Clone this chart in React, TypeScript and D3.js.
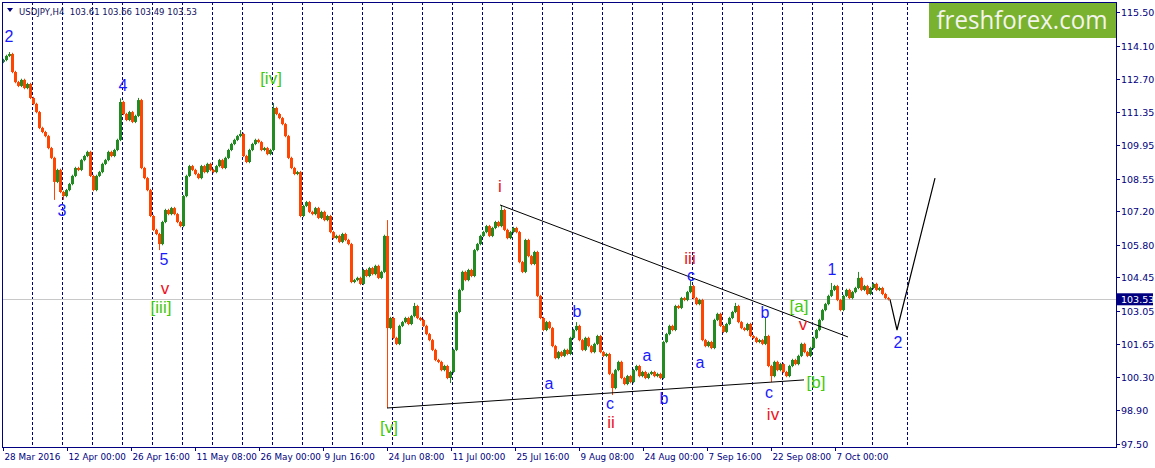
import * as d3 from 'd3';

// USDJPY H4, one close every 3 bars (12 hours)
const closes = [
  113.5, 113.67, 113.75, 113.0, 112.58, 112.42, 112.67, 112.33, 112.5, 111.92,
  111.67, 111.33, 110.67, 110.5, 110.33, 109.83, 109.42, 108.42, 108.92, 108.0,
  107.83, 108.08, 108.33, 108.67, 109.0, 108.92, 109.33, 109.5, 109.67, 108.67,
  108.08, 108.67, 108.83, 109.17, 109.33, 109.67, 109.5, 109.75, 110.17, 111.75,
  111.25, 111.0, 111.33, 110.92, 111.17, 111.83, 109.0, 108.58, 108.08, 107.0,
  106.42, 106.25, 105.83, 106.75, 107.25, 107.08, 107.33, 107.08, 106.75, 106.58,
  107.83, 108.67, 109.08, 108.92, 108.75, 108.58, 109.08, 108.83, 109.17, 108.92,
  108.83, 109.08, 109.33, 109.0, 109.42, 109.75, 110.0, 110.17, 110.33, 110.42,
  109.5, 109.25, 109.75, 110.0, 110.17, 110.08, 109.75, 109.83, 109.58, 109.75,
  111.5, 111.25, 111.08, 110.83, 110.33, 109.42, 109.0, 108.75, 108.83, 107.0,
  107.42, 107.58, 107.17, 107.08, 107.33, 106.92, 107.17, 106.83, 107.0, 106.33,
  106.08, 106.17, 105.92, 106.25, 106.0, 105.83, 104.25, 104.33, 104.42, 104.17,
  104.75, 104.5, 104.83, 104.58, 104.92, 104.42, 104.67, 106.17, 102.33, 102.75,
  101.92, 101.67, 102.42, 102.58, 102.75, 102.5, 102.83, 103.25, 102.75, 102.67,
  102.42, 102.08, 101.83, 101.42, 101.0, 100.92, 100.58, 100.75, 100.25, 100.5,
  101.42, 103.0, 103.92, 104.67, 104.33, 104.75, 104.5, 105.58, 105.83, 106.17,
  106.33, 106.58, 106.17, 106.5, 106.75, 106.58, 107.25, 106.42, 106.08, 106.33,
  106.5, 106.33, 105.08, 104.67, 106.0, 105.33, 105.0, 105.5, 103.67, 102.75,
  102.25, 102.58, 102.33, 101.58, 101.08, 101.33, 101.17, 101.42, 101.25, 101.92,
  102.25, 102.42, 101.83, 101.42, 101.92, 101.58, 101.33, 101.67, 102.0, 101.33,
  101.17, 101.25, 100.42, 99.83, 100.58, 100.92, 100.25, 100.0, 100.33, 100.08,
  100.58, 100.75, 100.33, 100.5, 100.25, 100.42, 100.5, 100.33, 100.42, 100.25,
  101.75, 102.08, 102.42, 102.25, 103.25, 103.17, 103.58, 103.5, 103.83, 104.08,
  103.58, 103.33, 103.5, 101.83, 101.58, 101.75, 101.5, 102.67, 102.92, 102.42,
  102.17, 102.5, 102.75, 103.0, 103.25, 102.58, 102.33, 102.25, 102.5, 102.0,
  101.92, 101.75, 101.83, 101.67, 102.0, 100.75, 100.33, 100.92, 100.58, 100.83,
  100.5, 100.33, 100.75, 101.0, 100.83, 101.17, 101.67, 101.33, 101.17, 101.5,
  101.92, 102.25, 102.67, 103.08, 103.33, 103.67, 103.92, 104.08, 103.5, 103.08,
  103.67, 103.92, 103.58, 103.83, 104.0, 104.42, 103.92, 104.08, 103.75, 104.0,
  104.17, 103.92, 104.0, 103.75, 103.58, 103.53,
];

// long wicks (index into closes)
const extremes: { i: number; high?: number; low?: number }[] = [
  { i: 2, high: 113.83 },
  { i: 17, low: 107.67 },
  { i: 20, low: 107.67 },
  { i: 39, high: 111.9 },
  { i: 45, high: 111.92 },
  { i: 52, low: 105.58 },
  { i: 79, high: 110.58 },
  { i: 90, high: 111.71 },
  { i: 128, high: 106.83, low: 99.0 },
  { i: 137, high: 103.38 },
  { i: 149, low: 100.04 },
  { i: 166, high: 107.46 },
  { i: 191, high: 102.58 },
  { i: 203, low: 99.54 },
  { i: 229, high: 104.33 },
  { i: 244, high: 103.38 },
  { i: 254, high: 102.79 },
  { i: 256, low: 100.08 },
  { i: 276, high: 104.21 },
  { i: 285, high: 104.67 },
];

const yTickLabels = ['115.50', '114.10', '112.70', '111.35', '109.95', '108.55', '107.20', '105.80', '104.45', '103.05', '101.65', '100.30', '98.90', '97.50'];
const xTickLabels = ['28 Mar 2016', '12 Apr 00:00', '26 Apr 16:00', '11 May 08:00', '26 May 00:00', '9 Jun 16:00', '24 Jun 08:00', '11 Jul 00:00', '25 Jul 16:00', '9 Aug 08:00', '24 Aug 00:00', '7 Sep 16:00', '22 Sep 08:00', '7 Oct 00:00'];
const xTickBars = [0, 64, 128, 192, 256, 320, 384, 448, 512, 576, 640, 704, 768, 832];
const weekBars = [...d3.range(29, 870, 30), 904];

const lastPrice = 103.53;
const quote = 'USDJPY,H4  103.61 103.66 103.49 103.53';

const upperLine = [{ bar: 497, price: 107.46 }, { bar: 845, price: 101.96 }];
const lowerLine = [{ bar: 384, price: 99.0 }, { bar: 801, price: 100.17 }];
const projection = [{ bar: 887, price: 103.53 }, { bar: 894, price: 102.25 }, { bar: 932, price: 108.58 }];

type Kind = 'blue' | 'red' | 'green';
const waveLabels: { text: string; bar: number; price: number; kind: Kind }[] = [
  { text: '2', bar: 6, price: 114.5, kind: 'blue' },
  { text: '3', bar: 59, price: 107.25, kind: 'blue' },
  { text: '4', bar: 120, price: 112.42, kind: 'blue' },
  { text: '5', bar: 161, price: 105.17, kind: 'blue' },
  { text: 'v', bar: 162, price: 104.0, kind: 'red' },
  { text: '[iii]', bar: 158, price: 103.17, kind: 'green' },
  { text: '[iv]', bar: 268, price: 112.71, kind: 'green' },
  { text: '[v]', bar: 386, price: 98.17, kind: 'green' },
  { text: 'i', bar: 497, price: 108.25, kind: 'red' },
  { text: 'a', bar: 546, price: 100.04, kind: 'blue' },
  { text: 'b', bar: 574, price: 103.04, kind: 'blue' },
  { text: 'c', bar: 607, price: 99.17, kind: 'blue' },
  { text: 'ii', bar: 608, price: 98.38, kind: 'red' },
  { text: 'a', bar: 644, price: 101.17, kind: 'blue' },
  { text: 'b', bar: 661, price: 99.38, kind: 'blue' },
  { text: 'iii', bar: 687, price: 105.25, kind: 'red' },
  { text: 'c', bar: 688, price: 104.54, kind: 'blue' },
  { text: 'a', bar: 697, price: 100.88, kind: 'blue' },
  { text: 'b', bar: 762, price: 103.0, kind: 'blue' },
  { text: 'c', bar: 766, price: 99.63, kind: 'blue' },
  { text: 'iv', bar: 770, price: 98.75, kind: 'red' },
  { text: '[a]', bar: 796, price: 103.21, kind: 'green' },
  { text: 'v', bar: 800, price: 102.46, kind: 'red' },
  { text: '[b]', bar: 813, price: 100.08, kind: 'green' },
  { text: '1', bar: 829, price: 104.79, kind: 'blue' },
  { text: '2', bar: 895, price: 101.71, kind: 'blue' },
];

const W = 1155;
const H = 468;
const plot = { left: 2, right: 1116, top: 2, bottom: 447 };
const NAVY = '#000080';
const AXIS_FONT = '"DejaVu Sans", Verdana, sans-serif';
const LABEL_FONT = '"Liberation Sans", Arial, sans-serif';
const labelStyle: Record<Kind, { fill: string; size: number }> = {
  blue: { fill: '#1a1aff', size: 16 },
  red: { fill: '#ee1122', size: 17 },
  green: { fill: '#44c80e', size: 17 },
};

export default function App() {
  const x = d3.scaleLinear().domain([0, 1113]).range([3, 1116]);
  const y = d3.scaleLinear().domain([97.5, 115.5]).range([444, 12]);

  const candles = closes.map((c, i) => {
    const o = i === 0 ? 113.42 : closes[i - 1];
    const ex = extremes.find((e) => e.i === i);
    const high = ex?.high ?? Math.max(o, c) + 0.05;
    const low = ex?.low ?? Math.min(o, c) - 0.05;
    const color = c > o ? '#228b22' : c < o ? '#ff4500' : '#000000';
    return { bar: i * 3, o, c, high, low, color };
  });

  const line = d3
    .line<{ bar: number; price: number }>()
    .x((d) => x(d.bar))
    .y((d) => y(d.price));

  return (
    <svg width={W} height={H} style={{ position: 'absolute', left: 0, top: 0, background: '#fff' }}>
      <rect x={0} y={0} width={W} height={H} fill="#fff" />

      {/* week separators */}
      {weekBars.map((b) => (
        <line key={b} x1={Math.round(x(b)) + 0.5} x2={Math.round(x(b)) + 0.5} y1={plot.top} y2={plot.bottom}
          stroke={NAVY} strokeWidth={1} strokeDasharray="3,2" />
      ))}

      {/* last price line */}
      <line x1={plot.left} x2={plot.right} y1={Math.round(y(lastPrice)) + 0.5} y2={Math.round(y(lastPrice)) + 0.5}
        stroke="#c8c8c8" strokeWidth={1} />

      {/* candles */}
      {candles.map((d) => {
        const cx = Math.round(x(d.bar));
        const top = y(Math.max(d.o, d.c));
        const bot = y(Math.min(d.o, d.c));
        return (
          <g key={d.bar}>
            <line x1={cx + 0.5} x2={cx + 0.5} y1={y(d.high)} y2={y(d.low)} stroke={d.color} strokeWidth={1} />
            <rect x={cx - 1} y={top} width={3} height={Math.max(1, bot - top)} fill={d.color} />
          </g>
        );
      })}

      {/* trend lines and projection */}
      <path d={line(upperLine) ?? ''} fill="none" stroke="#000" strokeWidth={1} />
      <path d={line(lowerLine) ?? ''} fill="none" stroke="#000" strokeWidth={1} />
      <path d={line(projection) ?? ''} fill="none" stroke="#000" strokeWidth={1.2} />

      {/* wave labels */}
      {waveLabels.map((l, k) => (
        <text key={k} x={x(l.bar)} y={y(l.price)} textAnchor="middle" dominantBaseline="central"
          fontFamily={LABEL_FONT} fontSize={labelStyle[l.kind].size} fill={labelStyle[l.kind].fill}>
          {l.text}
        </text>
      ))}

      {/* frame */}
      <rect x={plot.left + 0.5} y={plot.top + 0.5} width={plot.right - plot.left} height={plot.bottom - plot.top}
        fill="none" stroke={NAVY} strokeWidth={1} />

      {/* price axis */}
      {yTickLabels.map((t) => {
        const yy = Math.round(y(parseFloat(t))) + 0.5;
        return (
          <g key={t}>
            <line x1={plot.right} x2={plot.right + 4} y1={yy} y2={yy} stroke={NAVY} />
            <text x={plot.right + 5} y={yy} dominantBaseline="central" fontFamily={AXIS_FONT} fontSize={9.5} fill={NAVY}>
              {t}
            </text>
          </g>
        );
      })}
      <rect x={plot.right + 1} y={y(lastPrice) - 6} width={W - plot.right - 3} height={12} fill={NAVY} />
      <text x={plot.right + 5} y={y(lastPrice)} dominantBaseline="central" fontFamily={AXIS_FONT} fontSize={9.5} fill="#fff">
        {lastPrice.toFixed(2)}
      </text>

      {/* time axis */}
      {xTickLabels.map((t, k) => {
        const xx = Math.round(x(xTickBars[k])) + 0.5;
        return (
          <g key={t}>
            <line x1={xx} x2={xx} y1={plot.bottom} y2={plot.bottom + 4} stroke={NAVY} />
            <text x={xx + 1} y={460} fontFamily={AXIS_FONT} fontSize={8.8} fill={NAVY}>
              {t}
            </text>
          </g>
        );
      })}

      {/* header */}
      <path d="M7,8 L13,8 L10,12 Z" fill={NAVY} />
      <text x={19} y={14.5} fontFamily={AXIS_FONT} fontSize={9.5} fill="#101060" textLength={178}
        lengthAdjust="spacingAndGlyphs" style={{ whiteSpace: 'pre' }}>
        {quote}
      </text>

      {/* logo */}
      <rect x={929} y={3} width={187} height={35} fill="#78b22e" />
      <text x={1022} y={29} textAnchor="middle" fontFamily='"Open Sans", "Noto Sans", sans-serif' fontSize={25}
        fill="#f4f4ec" textLength={171} lengthAdjust="spacingAndGlyphs">
        freshforex.com
      </text>
    </svg>
  );
}
